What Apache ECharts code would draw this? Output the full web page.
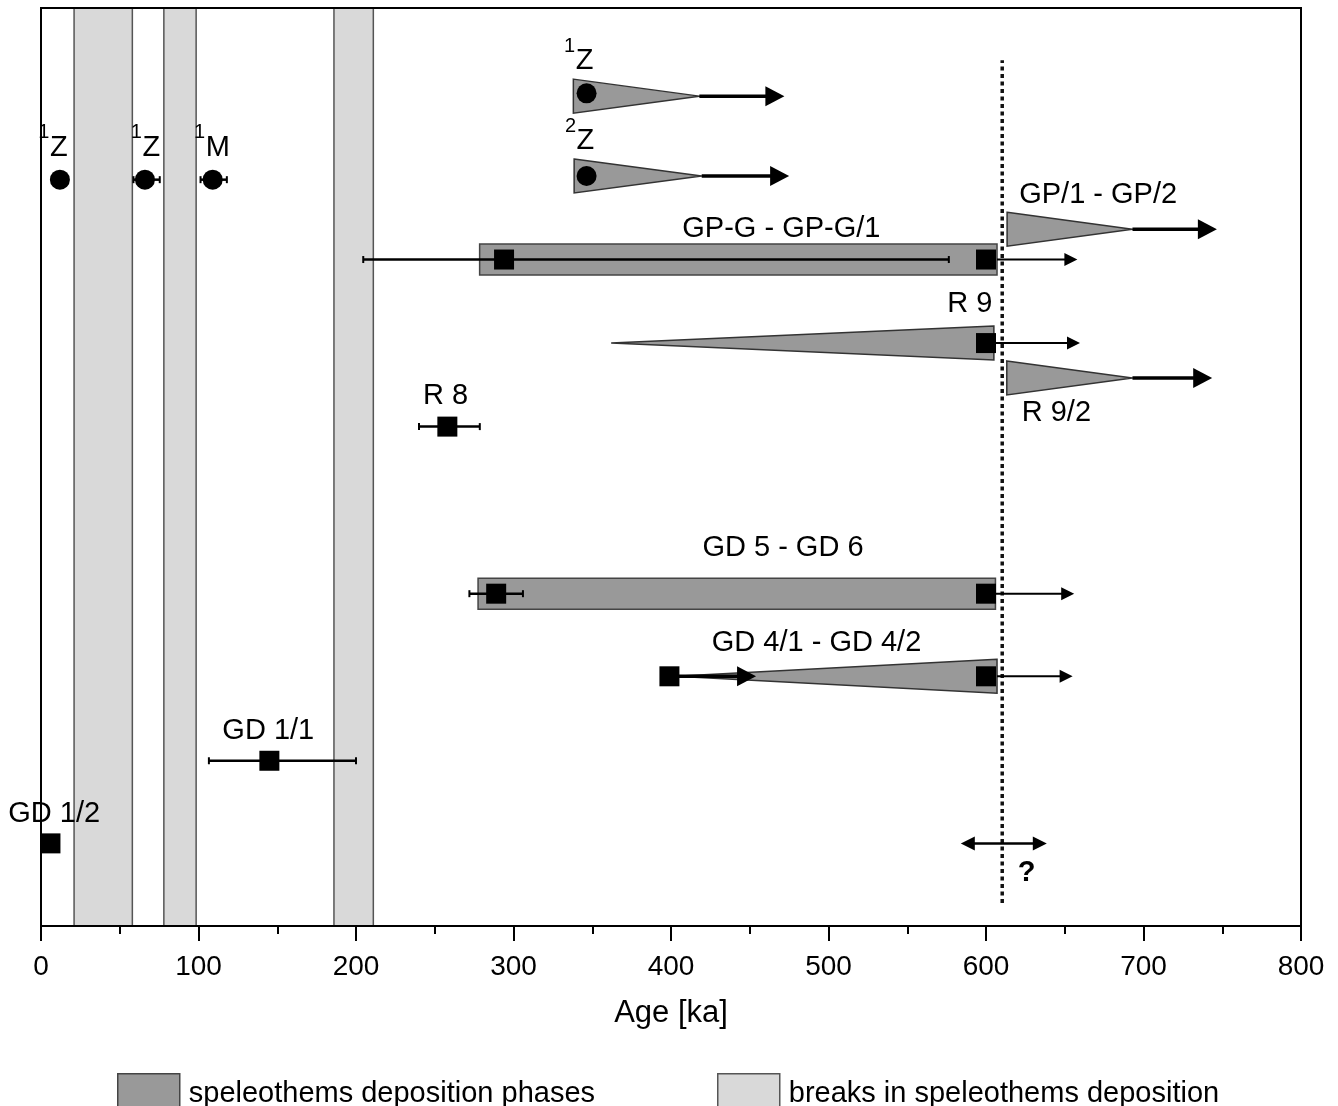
<!DOCTYPE html>
<html><head><meta charset="utf-8">
<script src="https://cdn.jsdelivr.net/npm/echarts@6/dist/echarts.min.js"></script>
<style>html,body{margin:0;padding:0;background:#fff}#c{width:1338px;height:1106px}</style>
</head><body><div id="c"></div>
<script>
const FONT = '"Liberation Sans", Arial, Helvetica, sans-serif';

// ---- axis ----
const xMin = 0, xMax = 800, xStep = 100;

// ---- breaks in speleothem deposition (ka) ----
const breakStart = [21, 78, 186];
const breakEnd   = [58, 98.5, 211];

// ---- deposition phase bars (ka) and row level ----
const barFrom = [278.5, 277.5];
const barTo   = [607, 606];
const barRow  = [72.6, 36.2];

// ---- deposition phase wedges: wide end, pointed end (ka), row ----
const wedgeWide = [338, 338.5, 613.4, 605, 613.2, 607];
const wedgeTip  = [418, 419.5, 693, 362, 693, 403];
const wedgeRow  = [90.4, 81.7, 75.9, 63.5, 59.7, 27.2];

// ---- arrows (older than): from, to (ka), row, bold ----
const arrowFrom = [418, 419.5, 693, 693, 399, 607, 605, 606, 607];
const arrowTo   = [472, 475, 746.6, 743.6, 454, 658, 659.7, 656, 655];
const arrowRow  = [90.4, 81.7, 75.9, 59.7, 27.2, 72.6, 63.5, 36.2, 27.2];
const arrowBold = [1, 1, 1, 1, 1, 0, 0, 0, 0];

// ---- uncertainty range of the boundary ----
const rangeFrom = [584];
const rangeTo   = [638.6];
const rangeRow  = [9.0];

// ---- boundary (dotted line) ----
const boundaryAge  = [610.3, 610.3];
const boundaryRows = [2.5, 94.3];

// ---- U-series dates (squares) ----
const squareAge   = [6, 145, 258, 289, 600, 294, 600, 600, 399, 600];
const squareRow   = [9.0, 18.0, 54.4, 36.2, 36.2, 72.6, 72.6, 63.5, 27.2, 27.2];
const squareErrLo = [null, 106.6, 240, 272, null, 204.6, null, null, null, null];
const squareErrHi = [null, 200, 278.6, 306, null, 576.4, null, null, null, null];

// ---- other dates (circles) ----
const circleAge   = [12, 66, 109, 346.4, 346.4];
const circleRow   = [81.3, 81.3, 81.3, 90.7, 81.7];
const circleErrLo = [null, 58.7, 101.3, null, null];
const circleErrHi = [null, 75.4, 118, null, null];

// ---- labels ----
const labelText = ['Z', 'Z', 'M', 'Z', 'Z', 'GP-G - GP-G/1', 'GP/1 - GP/2', 'R 9', 'R 9/2', 'R 8',
                   'GD 5 - GD 6', 'GD 4/1 - GD 4/2', 'GD 1/1', 'GD 1/2', '?'];
const labelSup  = ['1', '1', '1', '1', '2', '', '', '', '', '', '', '', '', '', ''];
const labelAge  = [11.3, 70, 112.2, 345.1, 345.7, 470.1, 671.2, 589.8, 644.7, 256.8, 471.1, 492.4, 144.3, 8.4, 625.8];
const labelRow  = [84.8, 84.8, 84.8, 94.2, 85.5, 75.9, 79.6, 67.8, 55.9, 57.75, 41.2, 30.8, 21.2, 12.25, 5.8];

const legendNames = ['speleothems deposition phases', 'breaks in speleothems deposition'];

const DARK = '#999999', LIGHT = '#d9d9d9';

const measureCtx = document.createElement('canvas').getContext('2d');
function textWidth(t, font) { measureCtx.font = font; return measureCtx.measureText(t).width; }

const chart = echarts.init(document.getElementById('c'), null, {renderer: 'canvas'});

function renderBreak(params, api) {
  const a = api.coord([api.value(0), 100]);
  const b = api.coord([api.value(1), 0]);
  const y0 = a[1] + 1, y1 = b[1] - 1;
  return {type: 'group', children: [
    {type: 'rect', shape: {x: a[0], y: y0, width: b[0] - a[0], height: y1 - y0}, style: {fill: LIGHT}},
    {type: 'line', shape: {x1: a[0], y1: y0, x2: a[0], y2: y1}, style: {stroke: '#555', lineWidth: 1.5}},
    {type: 'line', shape: {x1: b[0], y1: y0, x2: b[0], y2: y1}, style: {stroke: '#555', lineWidth: 1.5}}
  ]};
}

function renderPhase(params, api) {
  const kind = api.value(3);
  const a = api.coord([api.value(0), api.value(2)]);
  const b = api.coord([api.value(1), api.value(2)]);
  if (kind === 0) {
    const h = 15.5;
    return {type: 'rect', shape: {x: a[0], y: a[1] - h, width: b[0] - a[0], height: 2 * h},
            style: {fill: DARK, stroke: '#444', lineWidth: 1.5}};
  }
  const h = 17;
  return {type: 'polygon', shape: {points: [[a[0], a[1] - h], [b[0], b[1]], [a[0], a[1] + h]]},
          style: {fill: DARK, stroke: '#333', lineWidth: 1.5}};
}

function renderArrow(params, api) {
  const a = api.coord([api.value(0), api.value(2)]);
  const b = api.coord([api.value(1), api.value(2)]);
  const bold = api.value(3) === 1;
  const lw = bold ? 3.5 : 2, hl = bold ? 19 : 13, hw = bold ? 10 : 6.5;
  return {type: 'group', children: [
    {type: 'line', shape: {x1: a[0], y1: a[1], x2: b[0] - hl + 2, y2: b[1]}, style: {stroke: '#000', lineWidth: lw}},
    {type: 'polygon', shape: {points: [[b[0], b[1]], [b[0] - hl, b[1] - hw], [b[0] - hl, b[1] + hw]]}, style: {fill: '#000'}}
  ]};
}

function renderRange(params, api) {
  const a = api.coord([api.value(0), api.value(2)]);
  const b = api.coord([api.value(1), api.value(2)]);
  const hl = 14, hw = 7;
  return {type: 'group', children: [
    {type: 'line', shape: {x1: a[0] + hl - 2, y1: a[1], x2: b[0] - hl + 2, y2: b[1]}, style: {stroke: '#000', lineWidth: 2.5}},
    {type: 'polygon', shape: {points: [[b[0], b[1]], [b[0] - hl, b[1] - hw], [b[0] - hl, b[1] + hw]]}, style: {fill: '#000'}},
    {type: 'polygon', shape: {points: [[a[0], a[1]], [a[0] + hl, a[1] - hw], [a[0] + hl, a[1] + hw]]}, style: {fill: '#000'}}
  ]};
}

function renderErr(params, api) {
  const a = api.coord([api.value(0), api.value(2)]);
  const b = api.coord([api.value(1), api.value(2)]);
  const c = 3.5;
  return {type: 'group', children: [
    {type: 'line', shape: {x1: a[0], y1: a[1], x2: b[0], y2: b[1]}, style: {stroke: '#000', lineWidth: 2.5}},
    {type: 'line', shape: {x1: a[0], y1: a[1] - c, x2: a[0], y2: a[1] + c}, style: {stroke: '#000', lineWidth: 2}},
    {type: 'line', shape: {x1: b[0], y1: b[1] - c, x2: b[0], y2: b[1] + c}, style: {stroke: '#000', lineWidth: 2}}
  ]};
}

function renderLabel(params, api) {
  const i = api.value(2);
  const p = api.coord([api.value(0), api.value(1)]);
  const txt = labelText[i], sup = labelSup[i];
  const font = (txt === '?' ? 'bold ' : '') + '29px ' + FONT;
  const children = [{type: 'text', x: p[0], y: p[1],
    style: {text: txt, font: font, fill: '#000', align: 'center', verticalAlign: 'middle'}}];
  if (sup) {
    const w = textWidth(txt, font);
    children.push({type: 'text', x: p[0] - w / 2 - 0.5, y: p[1] - 5,
      style: {text: sup, font: '20px ' + FONT, fill: '#000', align: 'right', verticalAlign: 'bottom'}});
  }
  return {type: 'group', children: children};
}

const phaseData = barFrom.map((f, i) => [f, barTo[i], barRow[i], 0])
  .concat(wedgeWide.map((w, i) => [w, wedgeTip[i], wedgeRow[i], 1]));
const arrowData = arrowFrom.map((f, i) => [f, arrowTo[i], arrowRow[i], arrowBold[i]]);
const errData = [];
squareAge.forEach((a, i) => { if (squareErrLo[i] != null) errData.push([squareErrLo[i], squareErrHi[i], squareRow[i]]); });
circleAge.forEach((a, i) => { if (circleErrLo[i] != null) errData.push([circleErrLo[i], circleErrHi[i], circleRow[i]]); });

const option = {
  animation: false,
  backgroundColor: '#fff',
  grid: {left: 41, right: 37, top: 8, bottom: 180, show: true, borderColor: '#000', borderWidth: 2, backgroundColor: 'transparent'},
  legend: [
    {left: 117, top: 1073, padding: 0, itemWidth: 62, itemHeight: 40, selectedMode: false,
     data: [{name: legendNames[0], icon: 'rect', itemStyle: {color: DARK, borderColor: '#444', borderWidth: 1.5}}],
     textStyle: {fontSize: 29, fontFamily: FONT, color: '#000', padding: [0, 0, 0, 4]}},
    {left: 717, top: 1073, padding: 0, itemWidth: 62, itemHeight: 40, selectedMode: false,
     data: [{name: legendNames[1], icon: 'rect', itemStyle: {color: LIGHT, borderColor: '#555', borderWidth: 1.5}}],
     textStyle: {fontSize: 29, fontFamily: FONT, color: '#000', padding: [0, 0, 0, 4]}}
  ],
  xAxis: {
    type: 'value', min: xMin, max: xMax, interval: xStep,
    axisLine: {show: true, onZero: false, lineStyle: {color: '#000', width: 2}},
    axisTick: {show: true, length: 15, lineStyle: {color: '#000', width: 2}},
    minorTick: {show: true, splitNumber: 2, length: 8, lineStyle: {color: '#000', width: 2}},
    splitLine: {show: false}, minorSplitLine: {show: false},
    axisLabel: {fontSize: 28, fontFamily: FONT, color: '#000', margin: 27},
    name: 'Age [ka]', nameLocation: 'middle', nameGap: 72,
    nameTextStyle: {fontSize: 31, fontFamily: FONT, color: '#000'}
  },
  yAxis: {type: 'value', min: 0, max: 100, show: false},
  series: [
    {type: 'custom', name: legendNames[1], renderItem: renderBreak, data: breakStart.map((s, i) => [s, breakEnd[i]]),
     encode: {x: [0, 1]}, z: 1, silent: true, itemStyle: {color: LIGHT}},
    {type: 'line', data: boundaryRows.map((r, i) => [boundaryAge[i], r]), symbol: 'none', z: 2, silent: true,
     lineStyle: {color: '#111', width: 3.5, type: [4, 3.5]}},
    {type: 'custom', name: legendNames[0], renderItem: renderPhase, data: phaseData,
     encode: {x: [0, 1], y: 2}, z: 3, silent: true, itemStyle: {color: DARK}},
    {type: 'custom', renderItem: renderErr, data: errData, encode: {x: [0, 1], y: 2}, z: 4, silent: true},
    {type: 'custom', renderItem: renderArrow, data: arrowData, encode: {x: [0, 1], y: 2}, z: 4, silent: true},
    {type: 'custom', renderItem: renderRange, data: rangeFrom.map((f, i) => [f, rangeTo[i], rangeRow[i]]),
     encode: {x: [0, 1], y: 2}, z: 4, silent: true},
    {type: 'scatter', data: squareAge.map((a, i) => [a, squareRow[i]]), symbol: 'rect', symbolSize: 20,
     itemStyle: {color: '#000', opacity: 1}, z: 5, silent: true},
    {type: 'scatter', data: circleAge.map((a, i) => [a, circleRow[i]]), symbol: 'circle', symbolSize: 20,
     itemStyle: {color: '#000', opacity: 1}, z: 5, silent: true},
    {type: 'custom', renderItem: renderLabel, data: labelAge.map((a, i) => [a, labelRow[i], i]),
     encode: {x: 0, y: 1}, z: 6, silent: true, clip: false}
  ]
};
chart.setOption(option);
</script>
</body></html>
